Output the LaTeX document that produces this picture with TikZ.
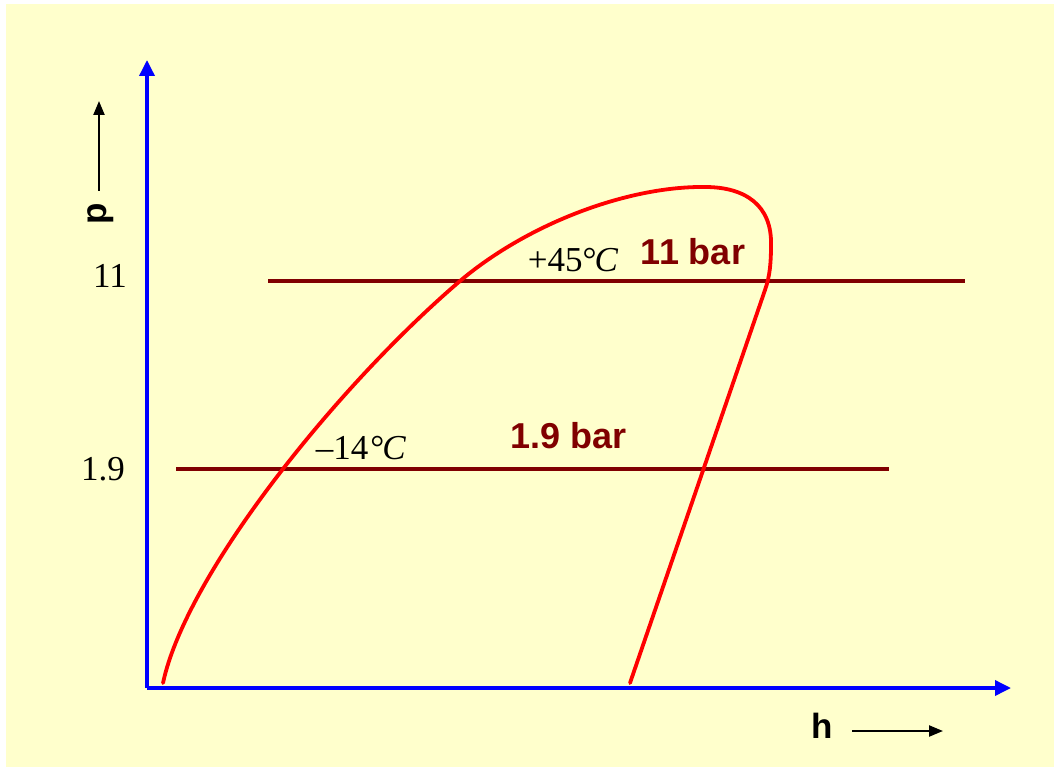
\documentclass[tikz,border=0pt]{standalone}
\usepackage{fontspec}
\setmainfont{Liberation Serif}
\newfontfamily\arialfont{Liberation Sans}
\usetikzlibrary{arrows.meta}
\definecolor{bgyellow}{HTML}{FFFFCC}
\definecolor{maroonline}{HTML}{800000}
\begin{document}
\begin{tikzpicture}[x=1pt,y=-1pt,
  axis/.style={draw=blue,line width=3.5pt,-{Triangle[length=16pt,width=15pt]}},
  curve/.style={draw=red,line width=3.8pt,line cap=round},
  isobar/.style={draw=maroonline,line width=3.5pt},
  serifnum/.style={font=\fontsize{35}{37}\selectfont,inner sep=0pt},
  barlabel/.style={font=\arialfont\bfseries\fontsize{36}{38}\selectfont,text=maroonline,inner sep=0pt},
  axlabel/.style={font=\arialfont\bfseries\fontsize{35}{37}\selectfont,inner sep=0pt},
  smallarrow/.style={draw=black,line width=2.2pt,-{Triangle[length=14pt,width=11pt]}}]
\useasboundingbox (0,0) rectangle (1054,767);
\fill[white] (0,0) rectangle (1054,767);
\fill[bgyellow] (6,4) rectangle (1054,767);
% isobars
\coordinate (u1) at (268,281);
\coordinate (u2) at (965,281);
\coordinate (l1) at (176,469);
\coordinate (l2) at (889,469);
\draw[isobar] (u1) -- (u2);
\draw[isobar] (l1) -- (l2);
% saturation curve
\coordinate (c0) at (163,683);
\coordinate (c2) at (460,281);
\coordinate (c3) at (705,187);
\coordinate (c4) at (771,245);
\coordinate (c5) at (765,290);
\coordinate (c6) at (630,683);
\draw[curve] (c0) .. controls (186,575) and (335,388) .. (c2)
  .. controls (530,222) and (630,186) .. (c3)
  .. controls (745,187) and (772,205) .. (c4)
  .. controls (771,262) and (770,276) .. (c5) -- (c6);
% axes
\coordinate (o) at (147,688);
\coordinate (ytip) at (147,60);
\coordinate (xtip) at (1011,688);
\draw[axis] (o) -- (ytip);
\draw[axis] (o) -- (xtip);
% labels
\node[serifnum] (n11) at (110,276) {11};
\node[serifnum] (n19) at (103,469) {1.9};
\node[serifnum,anchor=base] (t45) at (573,272) {+45\textdegree\kern-2pt\textit{C}};
\node[serifnum,anchor=base] (t14) at (361,459) {\textendash14\kern2pt\textdegree\kern-2pt\textit{C}};
\node[barlabel,anchor=base] (b11) at (693,265) {11 bar};
\node[barlabel,anchor=base] (b19) at (569,448) {1.9 bar};
\node[axlabel,rotate=90] (p) at (101,214) {p};
\coordinate (pa1) at (99,191);
\coordinate (pa2) at (99,101);
\draw[smallarrow] (pa1) -- (pa2);
\node[axlabel] (h) at (822,726) {h};
\coordinate (ha1) at (852,731);
\coordinate (ha2) at (943,731);
\draw[smallarrow] (ha1) -- (ha2);
\end{tikzpicture}
\end{document}
